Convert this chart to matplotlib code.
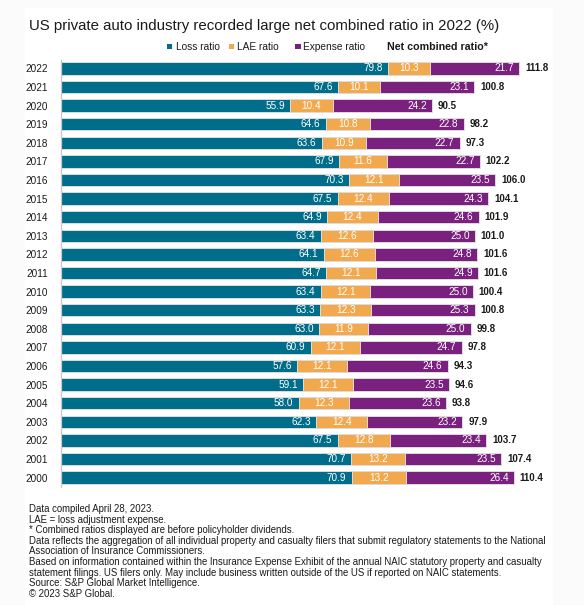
import matplotlib
matplotlib.use("Agg")
import matplotlib.pyplot as plt
from matplotlib.patches import Rectangle
import numpy as np

plt.rcParams['font.family'] = ['Liberation Sans', 'DejaVu Sans']

years = [str(y) for y in range(2022, 1999, -1)]
loss = [79.8, 67.6, 55.9, 64.6, 63.6, 67.9, 70.3, 67.5, 64.9, 63.4, 64.1, 64.7,
        63.4, 63.3, 63.0, 60.9, 57.6, 59.1, 58.0, 62.3, 67.5, 70.7, 70.9]
lae = [10.3, 10.1, 10.4, 10.8, 10.9, 11.6, 12.1, 12.4, 12.4, 12.6, 12.6, 12.1,
       12.1, 12.3, 11.9, 12.1, 12.1, 12.1, 12.3, 12.4, 12.8, 13.2, 13.2]
expense = [21.7, 23.1, 24.2, 22.8, 22.7, 22.7, 23.5, 24.3, 24.6, 25.0, 24.8, 24.9,
           25.0, 25.3, 25.0, 24.7, 24.6, 23.5, 23.6, 23.2, 23.4, 23.5, 26.4]
net = [111.8, 100.8, 90.5, 98.2, 97.3, 102.2, 106.0, 104.1, 101.9, 101.0, 101.6, 101.6,
       100.4, 100.8, 99.8, 97.8, 94.3, 94.6, 93.8, 97.9, 103.7, 107.4, 110.4]

series_names = ["Loss ratio", "LAE ratio", "Expense ratio"]
net_name = "Net combined ratio*"
title = "US private auto industry recorded large net combined ratio in 2022 (%)"
notes = [
    "Data compiled April 28, 2023.",
    "LAE = loss adjustment expense.",
    "* Combined ratios displayed are before policyholder dividends.",
    "Data reflects the aggregation of all individual property and casualty filers that submit regulatory statements to the National",
    "Association of Insurance Commissioners.",
    "Based on information contained within the Insurance Expense Exhibit of the annual NAIC statutory property and casualty",
    "statement filings. US filers only. May include business written outside of the US if reported on NAIC statements.",
    "Source: S&P Global Market Intelligence.",
    "\u00a9 2023 S&P Global.",
]

C_LOSS = "#006E8A"
C_LAE = "#F2A94E"
C_EXP = "#7A2180"

W, H = 584, 605
fig = plt.figure(figsize=(W / 100, H / 100), dpi=100, facecolor="#fbfbfb")

def fx(px):
    return px / W

def fy(py):
    return 1 - py / H

# white card
fig.patches.append(Rectangle((fx(25), 0), fx(553) - fx(25), fy(8), transform=fig.transFigure,
                             facecolor="white", edgecolor="none", zorder=-10))

ax_left, ax_right, ax_top, ax_bot = 60.7, 560.0, 60.0, 486.7
ax = fig.add_axes([fx(ax_left), fy(ax_bot), fx(ax_right - ax_left), (ax_bot - ax_top) / H])
ax.patch.set_alpha(0)

n = len(years)
ypos = np.arange(n)[::-1]  # 2022 at top
bh = 0.67
loss_a = np.array(loss)
lae_a = np.array(lae)
exp_a = np.array(expense)

ax.barh(ypos, loss_a, height=bh, color=C_LOSS, edgecolor="#dcdcdc", linewidth=0.7)
ax.barh(ypos, lae_a, left=loss_a, height=bh, color=C_LAE, edgecolor="#dcdcdc", linewidth=0.7)
ax.barh(ypos, exp_a, left=loss_a + lae_a, height=bh, color=C_EXP, edgecolor="#dcdcdc", linewidth=0.7)

xscale = 4.103  # px per unit
ax.set_xlim(0, (ax_right - ax_left) / xscale)
ax.set_ylim(-0.49, n - 1 + 0.45)

pad = 1.3
fs_val = 7.2
for i in range(n):
    y = ypos[i]
    ax.text(loss_a[i] - pad, y, f"{loss[i]:.1f}", ha="right", va="center",
            color="white", fontsize=fs_val)
    ax.text(loss_a[i] + lae_a[i] / 2, y, f"{lae[i]:.1f}", ha="center", va="center",
            color="white", fontsize=fs_val)
    ax.text(loss_a[i] + lae_a[i] + exp_a[i] - pad, y, f"{expense[i]:.1f}", ha="right",
            va="center", color="white", fontsize=fs_val)
    ax.text(loss_a[i] + lae_a[i] + exp_a[i] + 1.4, y, f"{net[i]:.1f}", ha="left",
            va="center", color="#1a1a1a", fontsize=7.0, fontweight="bold")

ax.set_yticks(ypos)
ax.set_yticklabels(years, fontsize=7.2, color="#1a1a1a")
ax.tick_params(axis="y", length=0, pad=9)
ax.set_xticks([])
for s in ["top", "right", "bottom"]:
    ax.spines[s].set_visible(False)
ax.spines["left"].set_color("#c8c8c8")
ax.spines["left"].set_linewidth(0.9)

# title
fig.text(fx(29), fy(26), title, ha="left", va="center", fontsize=10.85, color="#1a1a1a")

# legend
leg_y = 46.7
sq = 5.5
for xs, xt, name, c in [(169.5, 175.5, series_names[0], C_LOSS),
                         (231.3, 237.0, series_names[1], C_LAE),
                         (298.0, 302.8, series_names[2], C_EXP)]:
    fig.patches.append(Rectangle((fx(xs - sq / 2), fy(leg_y + sq / 2)), sq / W, sq / H,
                                 transform=fig.transFigure, facecolor=c, edgecolor="none"))
    fig.text(fx(xt), fy(leg_y), name, ha="left", va="center", fontsize=7.3, color="#1a1a1a")
fig.text(fx(387), fy(leg_y), net_name, ha="left", va="center", fontsize=7.7,
         fontweight="bold", color="#1a1a1a")

# notes
note_y = [509, 519.6, 530.2, 540.8, 551.4, 562, 572.6, 583.2, 593.8]
for t, yy in zip(notes, note_y):
    fig.text(fx(29), fy(yy), t, ha="left", va="center", fontsize=6.9, color="#1a1a1a")

fig.savefig("out.png", dpi=100, facecolor=fig.get_facecolor())
